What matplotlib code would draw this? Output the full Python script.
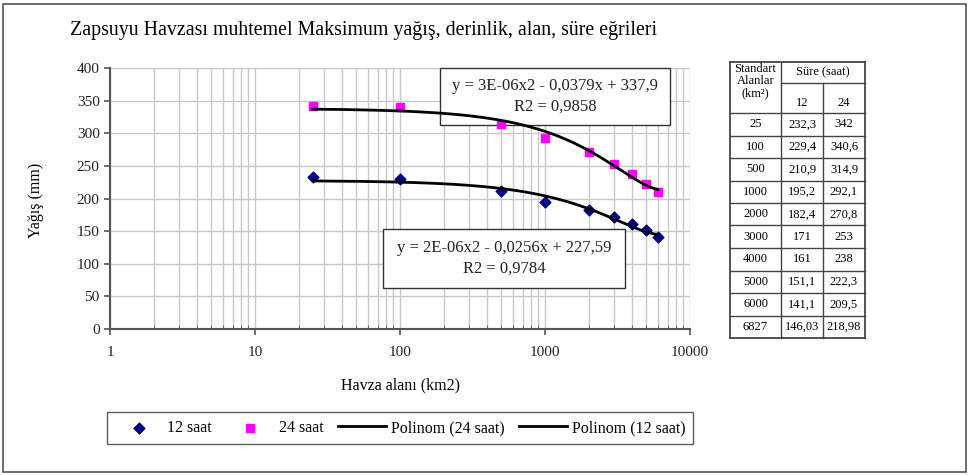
import numpy as np
import matplotlib
matplotlib.use("Agg")
import matplotlib.pyplot as plt
from matplotlib.patches import Rectangle
from matplotlib.ticker import LogLocator, FixedLocator, NullFormatter

matplotlib.rcParams.update({'font.family': 'Liberation Serif', 'font.size': 10})

# data
alan = [25, 100, 500, 1000, 2000, 3000, 4000, 5000, 6000]
y12 = [232.3, 229.4, 210.9, 195.2, 182.4, 171, 161, 151.1, 141.1]
y24 = [342, 340.6, 314.9, 292.1, 270.8, 253, 238, 222.3, 209.5]

tablo_alan = ["25", "100", "500", "1000", "2000", "3000", "4000", "5000", "6000", "6827"]
tablo_12 = ["232,3", "229,4", "210,9", "195,2", "182,4", "171", "161", "151,1", "141,1", "146,03"]
tablo_24 = ["342", "340,6", "314,9", "292,1", "270,8", "253", "238", "222,3", "209,5", "218,98"]

eq24 = "y = 3E-06x2 - 0,0379x + 337,9\nR2 = 0,9858"
eq12 = "y = 2E-06x2 - 0,0256x + 227,59\nR2 = 0,9784"

fig = plt.figure(figsize=(9.71, 4.75), dpi=100)
W, H = 971.0, 475.0

# outer frame
fig.patches.append(Rectangle((3 / W, 3 / H), 963 / W, 468 / H, transform=fig.transFigure,
                             fill=False, ec='#555555', lw=1.2))

ax = fig.add_axes([110 / W, 1 - 329 / H, 580 / W, 261 / H])
ax.set_xscale('log')
ax.set_xlim(1, 10000)
ax.set_ylim(0, 400)
ax.set_yticks(np.arange(0, 401, 50))
ax.xaxis.set_major_locator(FixedLocator([1, 10, 100, 1000, 10000]))
ax.set_xticklabels(['1', '10', '100', '1000', '10000'])
ax.xaxis.set_minor_locator(LogLocator(base=10, subs=np.arange(2, 10)))
ax.xaxis.set_minor_formatter(NullFormatter())
ax.grid(True, which='both', axis='x', color='#c8c8c8', lw=1)
ax.grid(True, which='major', axis='y', color='#c8c8c8', lw=1)
ax.set_axisbelow(True)
for s in ['top', 'right']:
    ax.spines[s].set_visible(False)
for s in ['left', 'bottom']:
    ax.spines[s].set_color('#555555')
    ax.spines[s].set_linewidth(1.5)
ax.tick_params(axis='both', which='major', direction='out', length=4, width=1.2, colors='#555555',
               labelcolor='#222222', labelsize=11)
ax.tick_params(axis='x', which='minor', direction='in', length=3, colors='#555555')
ax.tick_params(axis='x', pad=8)

ax.scatter(alan, y12, marker='D', s=30, color='#000080', zorder=3, label='12 saat')
ax.scatter(alan, y24, marker='s', s=36, color='#ff00ff', zorder=3, label='24 saat')

xs = np.linspace(alan[0], alan[-1], 400)
p24 = np.polyfit(alan, y24, 2)
p12 = np.polyfit(alan, y12, 2)
ax.plot(xs, np.polyval(p24, xs), color='black', lw=2, zorder=4, label='Polinom (24 saat)')
ax.plot(xs, np.polyval(p12, xs), color='black', lw=2, zorder=4, label='Polinom (12 saat)')

# trendline equation boxes (white fill over grid, under the data)
for (bx0, by0, bx1, by1), eq in [((440, 68, 670, 125), eq24), ((383, 229, 625, 288), eq12)]:
    ax.add_patch(Rectangle((bx0 / W, 1 - by1 / H), (bx1 - bx0) / W, (by1 - by0) / H,
                           transform=fig.transFigure, fc='white', ec='#333333', lw=1,
                           zorder=2, clip_on=False))
    ax.text((bx0 + bx1) / 2 / W, 1 - (by0 + by1) / 2 / H, eq, transform=fig.transFigure,
            ha='center', va='center', fontsize=12, linespacing=1.35, color='#222222', zorder=2.5)

fig.text(70 / W, 1 - 31 / H, "Zapsuyu Havzası muhtemel Maksimum yağış, derinlik, alan, süre eğrileri",
         fontsize=14.3, ha='left', va='center')
fig.text(400 / W, 1 - 385 / H, "Havza alanı (km2)", fontsize=11.5, ha='center', va='center')
fig.text(36 / W, 1 - 200 / H, "Yağış (mm)", fontsize=11.5, ha='center', va='center', rotation=90)

leg = ax.legend(loc='center', bbox_to_anchor=(400 / W, 1 - 428 / H), bbox_transform=fig.transFigure,
                ncol=4, fontsize=11.5, frameon=True, fancybox=False, edgecolor='#333333',
                handlelength=3, handletextpad=0.3, columnspacing=0.9, borderpad=0.5)
leg.get_frame().set_linewidth(1)

# table on the right
tx0, tx1, tx2, tx3 = 730, 781, 823, 865
ty0, ty_mid, ty_h = 62, 83, 113
row_h = 22.5
n = len(tablo_alan)
ty_end = ty_h + n * row_h
lc = '#444444'


def hline(y, x0, x1, lw=1):
    fig.add_artist(plt.Line2D([x0 / W, x1 / W], [1 - y / H, 1 - y / H], color=lc, lw=lw))


def vline(x, y0, y1, lw=1):
    fig.add_artist(plt.Line2D([x / W, x / W], [1 - y0 / H, 1 - y1 / H], color=lc, lw=lw))


hline(ty0, tx0, tx3, 1.3)
hline(ty_end, tx0, tx3, 1.3)
vline(tx0, ty0, ty_end, 1.3)
vline(tx3, ty0, ty_end, 1.3)
hline(ty_mid, tx1, tx3)
vline(tx1, ty0, ty_end)
vline(tx2, ty_mid, ty_end)
for i in range(n):
    hline(ty_h + i * row_h, tx0, tx3)

tf = 9
fig.text((tx0 + tx1) / 2 / W, 1 - 63 / H, "Standart\nAlanlar\n(km²)", fontsize=tf, ha='center', va='top',
         linespacing=1.0)
fig.text((tx1 + tx3) / 2 / W, 1 - (ty0 + ty_mid) / 2 / H, "Süre (saat)", fontsize=tf, ha='center', va='center')
fig.text((tx1 + tx2) / 2 / W, 1 - 103 / H, "12", fontsize=tf, ha='center', va='center')
fig.text((tx2 + tx3) / 2 / W, 1 - 103 / H, "24", fontsize=tf, ha='center', va='center')
for i in range(n):
    yc = 1 - (ty_h + (i + 0.5) * row_h) / H
    fig.text((tx0 + tx1) / 2 / W, yc, tablo_alan[i], fontsize=tf, ha='center', va='center')
    fig.text((tx1 + tx2) / 2 / W, yc, tablo_12[i], fontsize=tf, ha='center', va='center')
    fig.text((tx2 + tx3) / 2 / W, yc, tablo_24[i], fontsize=tf, ha='center', va='center')

plt.savefig("out.png", dpi=100)
